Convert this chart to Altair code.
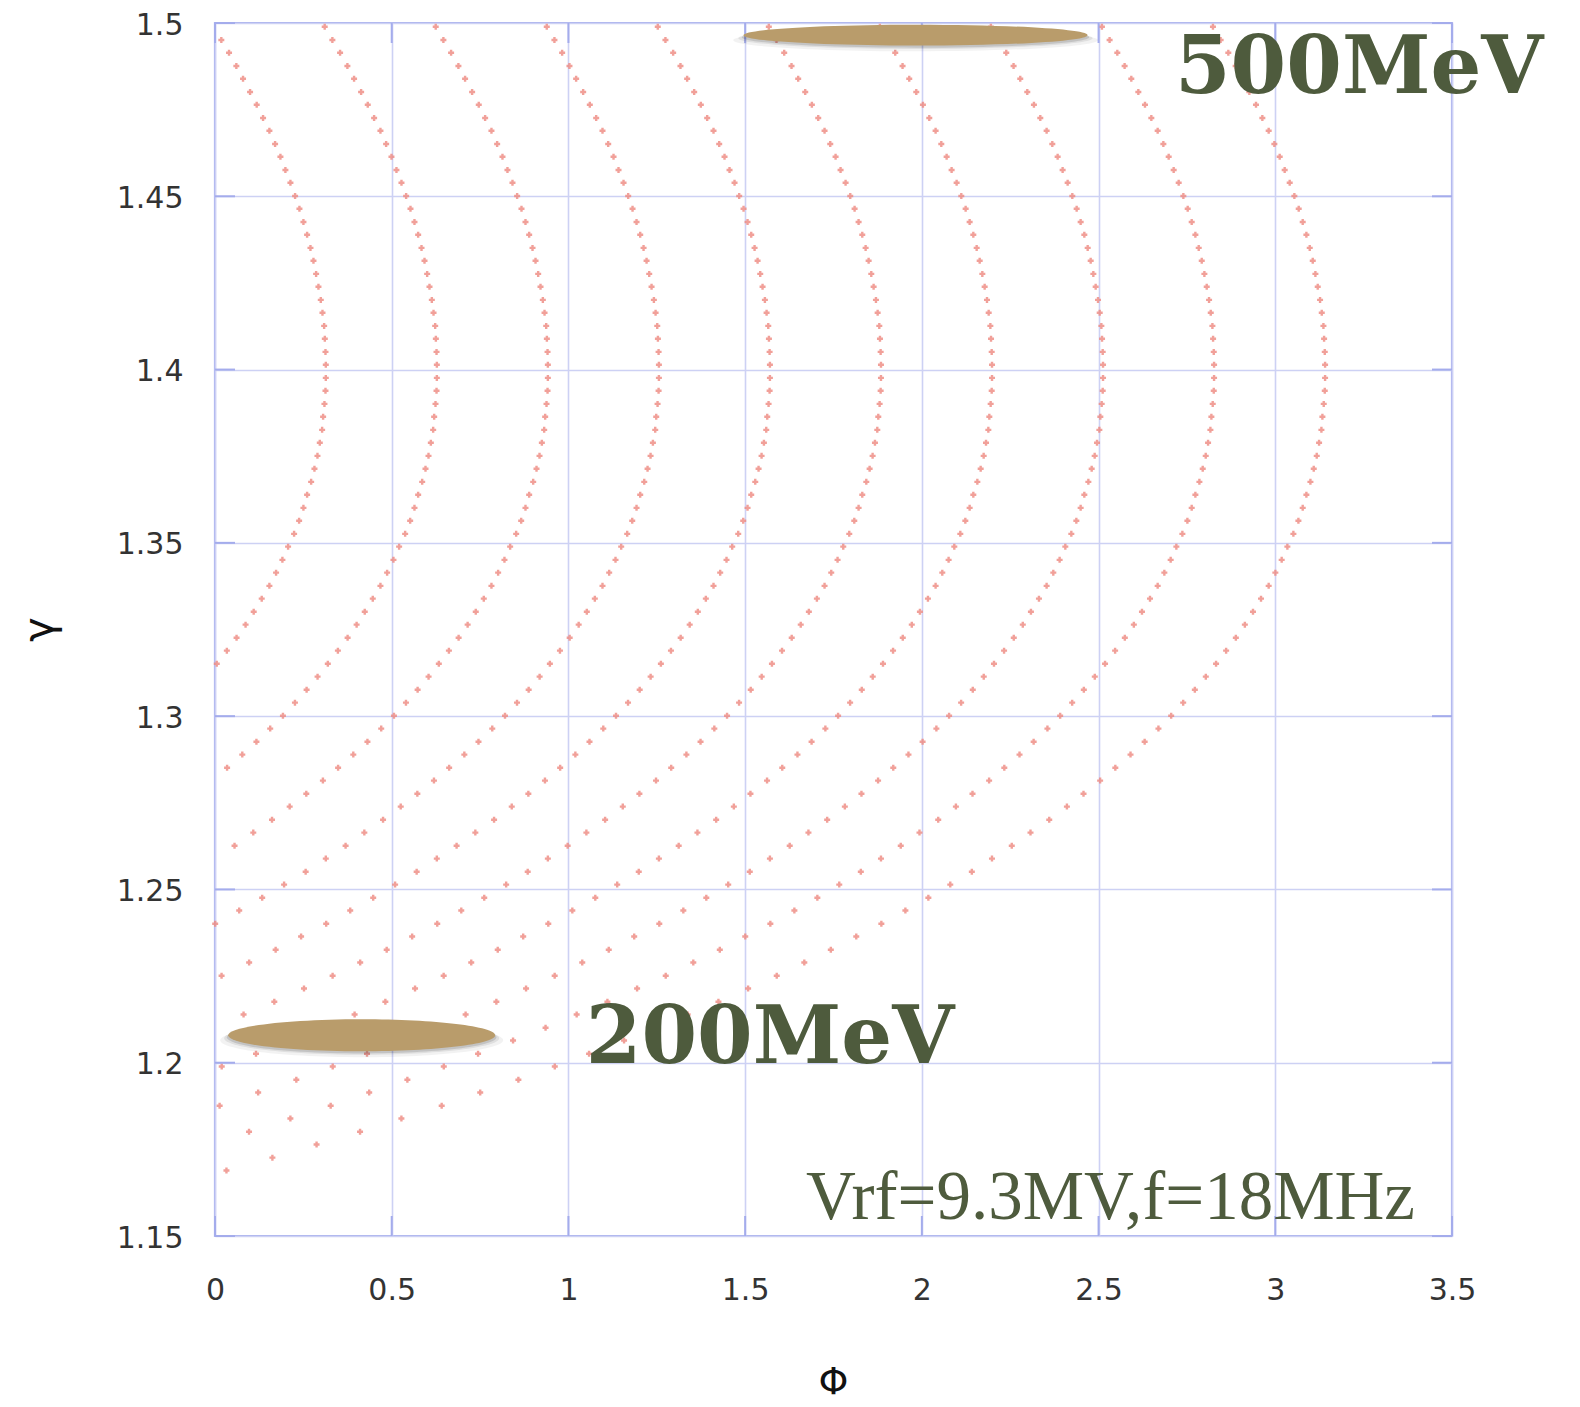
import altair as alt
import pandas as pd

# gamma rows (top to bottom)
gamma_rows = [
    1.4989, 1.4951, 1.4914, 1.4876, 1.4839, 1.4801, 1.4764, 1.4726, 1.4689, 1.4651,
    1.4614, 1.4576, 1.4539, 1.4501, 1.4464, 1.4426, 1.4389, 1.4351, 1.4314, 1.4276,
    1.4239, 1.4201, 1.4164, 1.4126, 1.4089, 1.4051, 1.4014, 1.3976, 1.3939, 1.3901,
    1.3864, 1.3826, 1.3789, 1.3751, 1.3714, 1.3676, 1.3639, 1.3601, 1.3564, 1.3526,
    1.3489, 1.3451, 1.3414, 1.3376, 1.3339, 1.3301, 1.3264, 1.3226, 1.3189, 1.3151,
    1.3114, 1.3076, 1.3039, 1.3001, 1.2964, 1.2926, 1.2889, 1.2851, 1.2814, 1.2776,
    1.2739, 1.2701, 1.2664, 1.2626, 1.2589, 1.2551, 1.2514, 1.2476, 1.2439, 1.2401,
    1.2364, 1.2326, 1.2289, 1.2251, 1.2214, 1.2176, 1.2139, 1.2101, 1.2064, 1.2026,
    1.1989, 1.1951, 1.1914, 1.1876, 1.1839, 1.1801, 1.1764, 1.1726, 1.1689,
]

# phase of the first (leftmost) trajectory at each gamma row
phi_base = [
    -0.0038, 0.0179, 0.0397, 0.0604, 0.0793, 0.0992, 0.1180, 0.1360, 0.1539, 0.1700,
    0.1851, 0.1992, 0.2134, 0.2266, 0.2389, 0.2502, 0.2606, 0.2701, 0.2786, 0.2861,
    0.2927, 0.2993, 0.3041, 0.3088, 0.3107, 0.3126, 0.3135, 0.3135, 0.3126, 0.3097,
    0.3059, 0.3031, 0.2965, 0.2899, 0.2814, 0.2720, 0.2606, 0.2502, 0.2380, 0.2238,
    0.2068, 0.1907, 0.1728, 0.1539, 0.1322, 0.1095, 0.0865, 0.0610, 0.0335, 0.0050,
    -0.0240, -0.0550, -0.0880, -0.1220, -0.1580, -0.1970, -0.2370, -0.2800, -0.3230, -0.3700,
    -0.4170, -0.4670, -0.5200, -0.5730, -0.6290, -0.6860, -0.7470, -0.8090, -0.8740, -0.9420,
    -1.0130, -1.0850, -1.1600, -1.2380, -1.3190, -1.4030, -1.4900, -1.5780, -1.6700, -1.7690,
    -1.8660, -1.9690, -2.0770, -2.1860, -2.3000, -2.4170, -2.5400, -2.6650, -2.7950,
]

# phase offsets of the ten trajectories
curve_offsets = [0.0, 0.3142, 0.6283, 0.9425, 1.2566, 1.5708, 1.8850, 2.1991, 2.5133, 2.8274]

x_ticks = [0, 0.5, 1, 1.5, 2, 2.5, 3, 3.5]
y_ticks = [1.15, 1.2, 1.25, 1.3, 1.35, 1.4, 1.45, 1.5]

# beam ellipses
ellipse_names = ["200MeV", "500MeV"]
ellipse_phi = [0.415, 1.982]
ellipse_gamma = [1.2079, 1.4965]

# annotations
note_texts = ["500MeV", "200MeV"]
note_phi = [2.716, 1.049]
note_gamma = [1.4799, 1.2000]
param_text = ["Vrf=9.3MV,f=18MHz"]
param_phi = [1.672]
param_gamma = [1.155]

rows = []
for k, off in enumerate(curve_offsets):
    for g, p in zip(gamma_rows, phi_base):
        x = p + off
        if 0 <= x <= 3.5:
            rows.append({"phi": x, "gamma": g, "curve": k})
dots = pd.DataFrame(rows)

xs = alt.Scale(domain=[0, 3.5], nice=False, zero=False)
ys = alt.Scale(domain=[1.15, 1.5], nice=False, zero=False)

W, H = 1237, 1213
GRID = "#cdd1f4"
TICKC = "#a4acec"

xaxis = alt.Axis(
    values=x_ticks, format="~g", grid=True, gridColor=GRID, gridWidth=1.6,
    domain=False, ticks=False, labelFont="DejaVu Sans", labelFontSize=30,
    labelColor="#333333", labelPadding=54, labelBaseline="middle", labelFlush=False,
    titleFont="DejaVu Sans", titleFontSize=38, titleFontWeight="normal",
    titleColor="#111111", titleX=618, titleY=146, titleAlign="center",
    titleBaseline="middle")
yaxis = alt.Axis(
    values=y_ticks, format="~g", grid=True, gridColor=GRID, gridWidth=1.6,
    domain=False, ticks=False, labelFont="DejaVu Sans", labelFontSize=30,
    labelColor="#333333", labelPadding=32, labelBaseline="middle", labelOffset=2,
    labelFlush=False,
    titleFont="DejaVu Sans", titleFontSize=42, titleFontWeight="normal",
    titleColor="#111111", titleX=-176, titleY=606, titleAngle=270,
    titleAlign="center", titleBaseline="middle")


def X(field):
    return alt.X(field, type="quantitative", scale=xs, axis=xaxis, title="Φ")


def Y(field):
    return alt.Y(field, type="quantitative", scale=ys, axis=yaxis, title="γ")


points = alt.Chart(dots).mark_point(
    shape="cross", filled=True, size=36, color="#ee8880", opacity=0.8, strokeWidth=0
).encode(x=X("phi"), y=Y("gamma"))

ytick_df = pd.DataFrame({"yt": y_ticks})
xtick_df = pd.DataFrame({"xt": x_ticks})
left_ticks = alt.Chart(ytick_df).mark_rule(color=TICKC, strokeWidth=2).encode(
    y=Y("yt"), x=alt.value(0), x2=alt.value(20))
right_ticks = alt.Chart(ytick_df).mark_rule(color=TICKC, strokeWidth=2).encode(
    y=Y("yt"), x=alt.value(W - 20), x2=alt.value(W))
bottom_ticks = alt.Chart(xtick_df).mark_rule(color=TICKC, strokeWidth=2).encode(
    x=X("xt"), y=alt.value(H - 20), y2=alt.value(H))
top_ticks = alt.Chart(xtick_df).mark_rule(color=TICKC, strokeWidth=2).encode(
    x=X("xt"), y=alt.value(0), y2=alt.value(20))


def ellipse_path(ry):
    k = 0.5523
    return (f"M -1 0 C -1 {-ry*k:.4f} {-k} {-ry} 0 {-ry} C {k} {-ry} 1 {-ry*k:.4f} 1 0 "
            f"C 1 {ry*k:.4f} {k} {ry} 0 {ry} C {-k} {ry} -1 {ry*k:.4f} -1 0 Z")


ell_df = pd.DataFrame({"name": ellipse_names, "phi": ellipse_phi, "gamma": ellipse_gamma})
ellipse_specs = [("200MeV", 267, 0.12), ("500MeV", 344, 0.061)]
ellipse_layers = []
for name, w, ry in ellipse_specs:
    base = alt.Chart(ell_df).transform_filter(alt.datum.name == name)
    path = ellipse_path(ry)
    for grow, op, dy in [(1.06, 0.05, 5), (1.03, 0.08, 3), (1.01, 0.12, 2)]:
        ellipse_layers.append(base.mark_point(
            shape=path, filled=True, size=(w * grow) ** 2, color="#000000",
            opacity=op, strokeWidth=0, yOffset=dy).encode(x=X("phi"), y=Y("gamma")))
    ellipse_layers.append(base.mark_point(
        shape=path, filled=True, size=w ** 2, color="#b99c6b", opacity=1,
        strokeWidth=0).encode(x=X("phi"), y=Y("gamma")))

notes_df = pd.DataFrame({"t": note_texts, "phi": note_phi, "gamma": note_gamma})
notes = alt.Chart(notes_df).mark_text(
    align="left", baseline="alphabetic", font="DejaVu Serif", fontWeight="bold",
    fontSize=80, color="#4e5b3d").encode(x=X("phi"), y=Y("gamma"), text="t:N")

param_df = pd.DataFrame({"t": param_text, "phi": param_phi, "gamma": param_gamma})
param = alt.Chart(param_df).mark_text(
    align="left", baseline="alphabetic", font="Liberation Serif", fontWeight="normal",
    fontSize=69, color="#4e5b3d").encode(x=X("phi"), y=Y("gamma"), text="t:N")

chart = alt.layer(
    points, left_ticks, right_ticks, bottom_ticks, top_ticks, *ellipse_layers, notes, param
).properties(
    width=W, height=H,
    padding={"left": 215, "top": 23, "right": 128, "bottom": 171},
    autosize=alt.AutoSizeParams(type="none"),
    background="white",
).configure_view(stroke="#a9b1ee", strokeWidth=2.2)

chart.save("out.html", embed_options={"renderer": "svg", "actions": False})
